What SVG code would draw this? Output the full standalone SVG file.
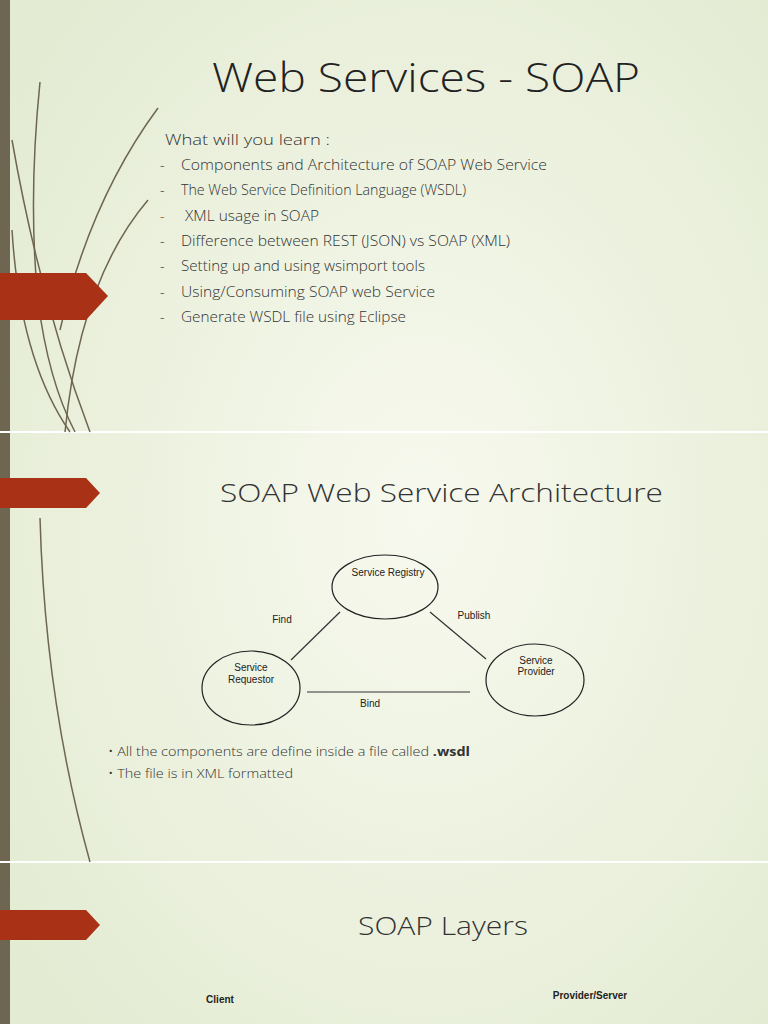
<svg xmlns="http://www.w3.org/2000/svg" width="768" height="1024" viewBox="0 0 768 1024">
<defs>
<radialGradient id="bg" cx="0.55" cy="0.5" r="0.7"><stop offset="0" stop-color="#f7f9ee"/><stop offset="1" stop-color="#e3ebd2"/></radialGradient>
<style>
.t{font-family:"Open Sans","Liberation Sans",sans-serif;font-weight:300;fill:#333}
.h{font-size:40px;fill:#222}
.s{font-size:14px}
.d{font-family:"Liberation Sans",Arial,sans-serif;font-size:10px;fill:#222}
.e{fill:none;stroke:#222;stroke-width:1.2}
.l{stroke:#333;stroke-width:1.2}
.c{fill:none;stroke:#6e6650;stroke-width:1.5}
.arr{fill:#a93216}
</style>
</defs>
<rect width="768" height="1024" fill="url(#bg)"/>
<rect x="0" y="0" width="10" height="1024" fill="#6e6650"/>
<line x1="0" y1="432" x2="768" y2="432" stroke="#fff" stroke-width="2"/>
<line x1="0" y1="862" x2="768" y2="862" stroke="#fff" stroke-width="2"/>
<g>
<path class="c" d="M40 82 Q28 200 38 300 Q48 380 75 432"/>
<path class="c" d="M12 140 Q40 300 90 432"/>
<path class="c" d="M148 200 Q80 280 65 432"/>
<path class="c" d="M158 108 Q90 200 60 330" stroke="#c8cdb4"/>
<path class="c" d="M12 230 Q20 360 70 432" stroke="#bfc4aa"/>
<path class="c" d="M40 518 Q45 700 90 862"/>
</g>
<path class="arr" d="M0 273 H86 L108 296 L86 320 H0 Z"/>
<path class="arr" d="M0 478 H86 L100 493 L86 508 H0 Z"/>
<path class="arr" d="M0 910 H86 L100 925 L86 940 H0 Z"/>
<text class="t h" x="212" y="92" textLength="428" lengthAdjust="spacingAndGlyphs">Web Services - SOAP</text>
<g class="t s">
<text x="165" y="145" textLength="165" lengthAdjust="spacingAndGlyphs">What will you learn :</text>
<text x="160" y="170">-</text><text x="181" y="170" textLength="366" lengthAdjust="spacingAndGlyphs">Components and Architecture of SOAP Web Service</text>
<text x="160" y="195">-</text><text x="181" y="195" textLength="285" lengthAdjust="spacingAndGlyphs">The Web Service Definition Language (WSDL)</text>
<text x="160" y="221" fill="#a93216">-</text><text x="185" y="221" textLength="134" lengthAdjust="spacingAndGlyphs">XML usage in SOAP</text>
<text x="160" y="246">-</text><text x="181" y="246" textLength="329" lengthAdjust="spacingAndGlyphs">Difference between REST (JSON) vs SOAP (XML)</text>
<text x="160" y="271">-</text><text x="181" y="271" textLength="244" lengthAdjust="spacingAndGlyphs">Setting up and using wsimport tools</text>
<text x="160" y="297">-</text><text x="181" y="297" textLength="254" lengthAdjust="spacingAndGlyphs">Using/Consuming SOAP web Service</text>
<text x="160" y="322">-</text><text x="181" y="322" textLength="225" lengthAdjust="spacingAndGlyphs">Generate WSDL file using Eclipse</text>
</g>
<text class="t" x="220" y="502" textLength="443" lengthAdjust="spacingAndGlyphs" font-size="26" fill="#222">SOAP Web Service Architecture</text>
<g id="connectors">
<line class="l" x1="291" y1="660" x2="340" y2="612"/>
<line class="l" x1="430" y1="612" x2="486" y2="659"/>
<line class="l" x1="307" y1="692" x2="470" y2="692"/>
<text class="d" x="282" y="623" text-anchor="middle">Find</text>
<text class="d" x="474" y="619" text-anchor="middle">Publish</text>
<text class="d" x="370" y="707" text-anchor="middle">Bind</text>
</g>
<g id="registry"><ellipse class="e" cx="385" cy="587" rx="53" ry="32"/><text class="d" x="388" y="576" text-anchor="middle">Service Registry</text></g>
<g id="requestor"><ellipse class="e" cx="251" cy="688" rx="49" ry="37"/><text class="d" x="251" y="671" text-anchor="middle">Service</text><text class="d" x="251" y="683" text-anchor="middle">Requestor</text></g>
<g id="provider"><ellipse class="e" cx="535" cy="680" rx="49" ry="36"/><text class="d" x="536" y="664" text-anchor="middle">Service</text><text class="d" x="536" y="675" text-anchor="middle">Provider</text></g>
<g class="t" font-size="13" fill="#222" font-weight="400">
<text x="108" y="756" textLength="362" lengthAdjust="spacingAndGlyphs">• All the components  are define inside a file called <tspan font-weight="bold">.wsdl</tspan></text>
<text x="108" y="778" textLength="185" lengthAdjust="spacingAndGlyphs">• The file is in XML formatted</text>
</g>
<text class="t" x="358" y="935" textLength="170" lengthAdjust="spacingAndGlyphs" font-size="26" fill="#222">SOAP Layers</text>
<text x="220" y="1003" text-anchor="middle" font-family="Liberation Sans,sans-serif" font-size="10" font-weight="bold" fill="#222">Client</text>
<text x="590" y="999" text-anchor="middle" font-family="Liberation Sans,sans-serif" font-size="10" font-weight="bold" fill="#222">Provider/Server</text>
</svg>
